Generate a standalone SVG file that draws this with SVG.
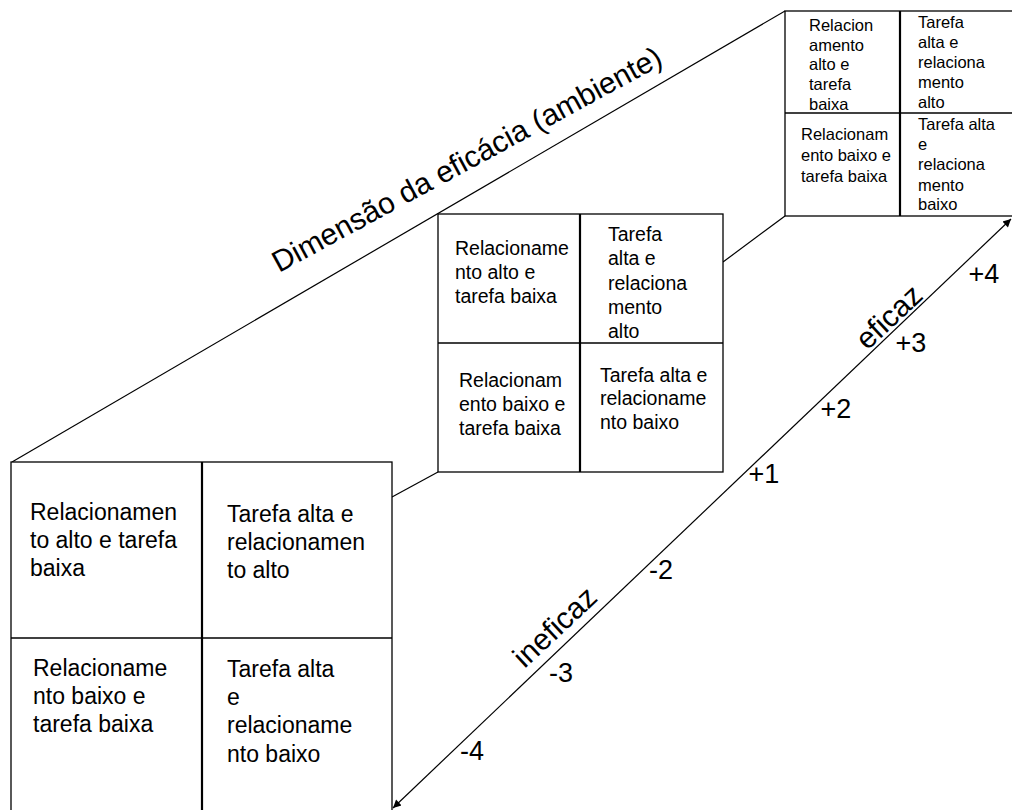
<svg xmlns="http://www.w3.org/2000/svg" width="1012" height="810" viewBox="0 0 1012 810">
  <style>
    text { font-family: "Liberation Sans", Arial, sans-serif; fill: #000; }
    .box { fill: #fff; stroke: #000; stroke-width: 1.3; }
    .div { stroke: #000; stroke-width: 1.3; }
    .vdiv { stroke: #000; stroke-width: 2.2; }
    .conn { stroke: #000; stroke-width: 1.2; fill: none; }
    .t-s { font-size: 16.5px; }
    .t-m { font-size: 19.5px; }
    .t-l { font-size: 23px; }
    .num { font-size: 27px; text-anchor: middle; }
    .axis { font-size: 30px; text-anchor: middle; }
    .title { font-size: 30px; }
  </style>
  <defs>
    <marker id="arrow" viewBox="0 0 10 10" refX="10" refY="5" markerWidth="10" markerHeight="8" markerUnits="userSpaceOnUse" orient="auto-start-reverse">
      <path d="M0,0 L10,5 L0,10 z" fill="#000"/>
    </marker>
  </defs>

  <rect width="1012" height="810" fill="#fff"/>

  <!-- connecting lines between the three grids and the effectiveness axis -->
  <g id="connectors">
    <line class="conn" x1="12" y1="462" x2="785" y2="11"/>
    <line class="conn" x1="438" y1="472" x2="392" y2="497"/>
    <line class="conn" x1="723" y1="262" x2="785" y2="216"/>
    <line class="conn" x1="393" y1="808" x2="1011" y2="219" marker-start="url(#arrow)" marker-end="url(#arrow)"/>
  </g>

  <!-- axis title -->
  <text class="title" transform="translate(279,273) rotate(-28.5)">Dimensão da eficácia (ambiente)</text>

  <!-- axis labels -->
  <g id="axis-labels">
    <text class="axis" transform="translate(889,317) rotate(-43)" y="10">eficaz</text>
    <text class="axis" transform="translate(555,627) rotate(-43)" y="10">ineficaz</text>
    <text class="num" x="984" y="283">+4</text>
    <text class="num" x="911" y="352">+3</text>
    <text class="num" x="836" y="418">+2</text>
    <text class="num" x="764" y="483">+1</text>
    <text class="num" x="661" y="579">-2</text>
    <text class="num" x="561" y="682">-3</text>
    <text class="num" x="472" y="760">-4</text>
  </g>

  <!-- far grid (top right) -->
  <g id="grid-far">
    <rect class="box" x="785" y="11" width="230" height="205"/>
    <line class="div" x1="785" y1="113" x2="1015" y2="113"/>
    <line class="vdiv" x1="900" y1="11" x2="900" y2="216"/>
    <text class="t-s">
      <tspan x="809" y="31">Relacion</tspan>
      <tspan x="809" y="50.5">amento</tspan>
      <tspan x="809" y="70">alto e</tspan>
      <tspan x="809" y="90">tarefa</tspan>
      <tspan x="809" y="109.5">baixa</tspan>
    </text>
    <text class="t-s">
      <tspan x="918" y="28">Tarefa</tspan>
      <tspan x="918" y="47.5">alta e</tspan>
      <tspan x="918" y="68">relaciona</tspan>
      <tspan x="918" y="88">mento</tspan>
      <tspan x="918" y="108">alto</tspan>
    </text>
    <text class="t-s">
      <tspan x="801" y="140">Relacionam</tspan>
      <tspan x="801" y="161">ento baixo e</tspan>
      <tspan x="801" y="182">tarefa baixa</tspan>
    </text>
    <text class="t-s">
      <tspan x="918" y="130">Tarefa alta</tspan>
      <tspan x="918" y="150">e</tspan>
      <tspan x="918" y="170">relaciona</tspan>
      <tspan x="918" y="191">mento</tspan>
      <tspan x="918" y="210">baixo</tspan>
    </text>
  </g>

  <!-- middle grid -->
  <g id="grid-mid">
    <rect class="box" x="438" y="214" width="285" height="258"/>
    <line class="div" x1="438" y1="343" x2="723" y2="343"/>
    <line class="vdiv" x1="580" y1="214" x2="580" y2="472"/>
    <text class="t-m">
      <tspan x="455" y="255">Relacioname</tspan>
      <tspan x="455" y="279">nto alto e</tspan>
      <tspan x="455" y="303">tarefa baixa</tspan>
    </text>
    <text class="t-m">
      <tspan x="608" y="241">Tarefa</tspan>
      <tspan x="608" y="265">alta e</tspan>
      <tspan x="608" y="290">relaciona</tspan>
      <tspan x="608" y="314">mento</tspan>
      <tspan x="608" y="338">alto</tspan>
    </text>
    <text class="t-m">
      <tspan x="459" y="387">Relacionam</tspan>
      <tspan x="459" y="411">ento baixo e</tspan>
      <tspan x="459" y="435">tarefa baixa</tspan>
    </text>
    <text class="t-m">
      <tspan x="600" y="382">Tarefa alta e</tspan>
      <tspan x="600" y="405">relacioname</tspan>
      <tspan x="600" y="429">nto baixo</tspan>
    </text>
  </g>

  <!-- near grid (bottom left) -->
  <g id="grid-near">
    <rect class="box" x="11" y="462" width="381" height="360"/>
    <line class="div" x1="11" y1="638" x2="392" y2="638"/>
    <line class="vdiv" x1="202" y1="462" x2="202" y2="822"/>
    <text class="t-l">
      <tspan x="30" y="520">Relacionamen</tspan>
      <tspan x="30" y="548">to alto e tarefa</tspan>
      <tspan x="30" y="576">baixa</tspan>
    </text>
    <text class="t-l">
      <tspan x="227" y="522">Tarefa alta e</tspan>
      <tspan x="227" y="550">relacionamen</tspan>
      <tspan x="227" y="578">to alto</tspan>
    </text>
    <text class="t-l">
      <tspan x="33" y="676">Relacioname</tspan>
      <tspan x="33" y="704">nto baixo e</tspan>
      <tspan x="33" y="732">tarefa baixa</tspan>
    </text>
    <text class="t-l">
      <tspan x="227" y="677">Tarefa alta</tspan>
      <tspan x="227" y="705">e</tspan>
      <tspan x="227" y="733">relacioname</tspan>
      <tspan x="227" y="762">nto baixo</tspan>
    </text>
  </g>
</svg>
